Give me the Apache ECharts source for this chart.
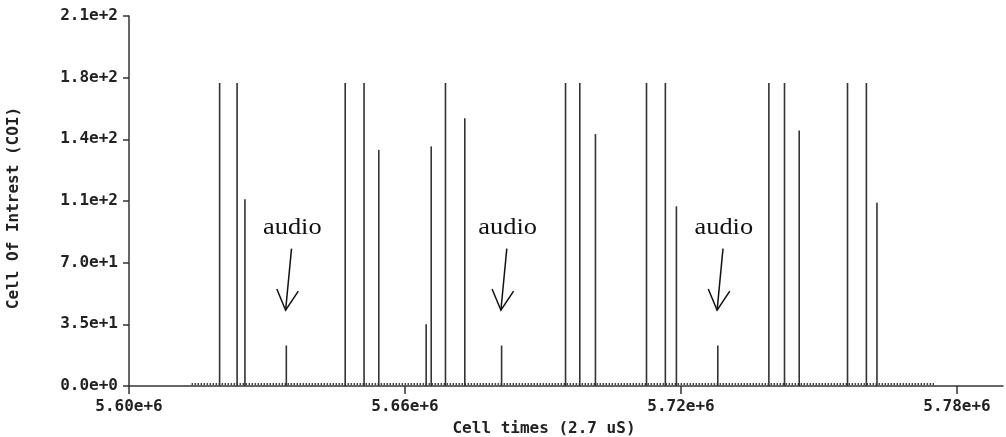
<!DOCTYPE html>
<html>
<head>
<meta charset="utf-8">
<script src="https://cdn.jsdelivr.net/npm/echarts@6/dist/echarts.min.js"></script>
<style>
  html, body { margin: 0; padding: 0; background: #fff; }
  #chart { width: 1006px; height: 437px; }
</style>
</head>
<body>
<div id="chart"></div>
<script>
// Cell arrival times (in 2.7 uS cell units) and their cell-of-interest values
const cellTimes = [5619700, 5623500, 5625200, 5634200, 5647000, 5651100, 5654300,
  5664600, 5665700, 5668800, 5673000, 5681000, 5694900, 5698000, 5701400,
  5712500, 5716600, 5719000, 5728000, 5739100, 5742500, 5745700, 5756200,
  5760300, 5762600];
const cellValues = [172, 172, 106, 23, 172, 172, 134,
  35, 136, 172, 152, 23, 172, 172, 143,
  172, 172, 102, 23, 172, 172, 145, 172,
  172, 104];

// Span of the idle (empty) cells that run along the base line
const idleSpan = [5613600, 5775000];
const idleLevel = 1.1;

// Cells marked as audio
const audioCells = [5634200, 5681000, 5728000];
const audioLabel = 'audio';

// Axis ticks and their labels
const xTicks = [5600000, 5660000, 5720000, 5780000];
const xTickLabels = ['5.60e+6', '5.66e+6', '5.72e+6', '5.78e+6'];
const yTicks = [0, 35, 70, 105, 140, 175, 210];
const yTickLabels = ['0.0e+0', '3.5e+1', '7.0e+1', '1.1e+2', '1.4e+2', '1.8e+2', '2.1e+2'];

const axisColor = '#333';
const labelFont = {
  fontFamily: 'DejaVu Sans Mono',
  fontWeight: 'bold',
  fontSize: 16,
  color: '#222'
};

const chart = echarts.init(document.getElementById('chart'), null, { renderer: 'canvas' });

function tickText(ticks, labels) {
  return function (v) {
    const i = ticks.findIndex(t => Math.abs(t - v) < 1e-6);
    return i >= 0 ? labels[i] : '';
  };
}

chart.setOption({
  animation: false,
  backgroundColor: '#fff',
  grid: { left: 129, right: 3, top: 16, bottom: 51, containLabel: false, outerBoundsMode: 'none' },
  xAxis: {
    type: 'value',
    min: 5600000,
    max: 5790000,
    name: 'Cell times (2.7 uS)',
    nameLocation: 'middle',
    nameGap: 35,
    nameTextStyle: Object.assign({}, labelFont, { padding: [0, 44, 0, 0] }),
    axisLine: { show: true, lineStyle: { color: axisColor, width: 1.5 } },
    axisTick: { show: true, length: 8, customValues: xTicks, lineStyle: { color: axisColor, width: 1.5 } },
    axisLabel: Object.assign({}, labelFont, {
      customValues: xTicks,
      margin: 13,
      formatter: tickText(xTicks, xTickLabels)
    }),
    splitLine: { show: false }
  },
  yAxis: {
    type: 'value',
    min: 0,
    max: 210,
    interval: 35,
    name: 'Cell Of Intrest (COI)',
    nameLocation: 'middle',
    nameRotate: 90,
    nameGap: 107,
    nameTextStyle: Object.assign({}, labelFont, { padding: [0, 14, 0, 0] }),
    axisLine: { show: true, lineStyle: { color: axisColor, width: 1.5 } },
    axisTick: { show: true, length: 6, lineStyle: { color: axisColor, width: 1.5 } },
    axisLabel: Object.assign({}, labelFont, {
      margin: 11,
      formatter: tickText(yTicks, yTickLabels)
    }),
    splitLine: { show: false }
  },
  series: [
    {
      name: 'idle',
      type: 'line',
      data: [[idleSpan[0], idleLevel], [idleSpan[1], idleLevel]],
      symbol: 'none',
      silent: true,
      lineStyle: { color: '#444', width: 2, type: [1.5, 1.5] },
      z: 1
    },
    {
      name: 'COI',
      type: 'bar',
      data: cellTimes.map((t, i) => [t, cellValues[i]]),
      barWidth: 1.6,
      itemStyle: { color: '#333' },
      z: 2
    }
  ]
});

// Annotate the audio cells: label with an open-headed arrow pointing at each cell
function drawAudioNotes() {
  const els = [];
  audioCells.forEach(t => {
    const [bx] = chart.convertToPixel({ gridIndex: 0 }, [t, 0]);
    const [, ty] = chart.convertToPixel({ gridIndex: 0 }, [t, 90]);
    const [, sy] = chart.convertToPixel({ gridIndex: 0 }, [t, 78]);
    const [, ey] = chart.convertToPixel({ gridIndex: 0 }, [t, 43]);
    const top = [bx + 5.2, sy];
    const tip = [bx - 0.7, ey];
    const dx = top[0] - tip[0], dy = top[1] - tip[1];
    const len = Math.hypot(dx, dy);
    const ux = dx / len, uy = dy / len;
    const arm = 23, ang = 28 * Math.PI / 180;
    const rot = a => [tip[0] + arm * (ux * Math.cos(a) - uy * Math.sin(a)),
                      tip[1] + arm * (ux * Math.sin(a) + uy * Math.cos(a))];
    const left = rot(ang), right = rot(-ang);
    els.push({
      type: 'text',
      x: bx + 6, y: ty,
      scaleX: 1.1,
      style: {
        text: audioLabel,
        fontFamily: 'Liberation Serif',
        fontSize: 24,
        fill: '#111',
        align: 'center',
        verticalAlign: 'middle'
      }
    });
    els.push({
      type: 'polyline',
      shape: { points: [top, tip] },
      style: { stroke: '#111', lineWidth: 1.5, fill: null }
    });
    els.push({
      type: 'polyline',
      shape: { points: [left, tip, right] },
      style: { stroke: '#111', lineWidth: 1.5, fill: null }
    });
  });
  chart.setOption({ graphic: els });
}
drawAudioNotes();
</script>
</body>
</html>
